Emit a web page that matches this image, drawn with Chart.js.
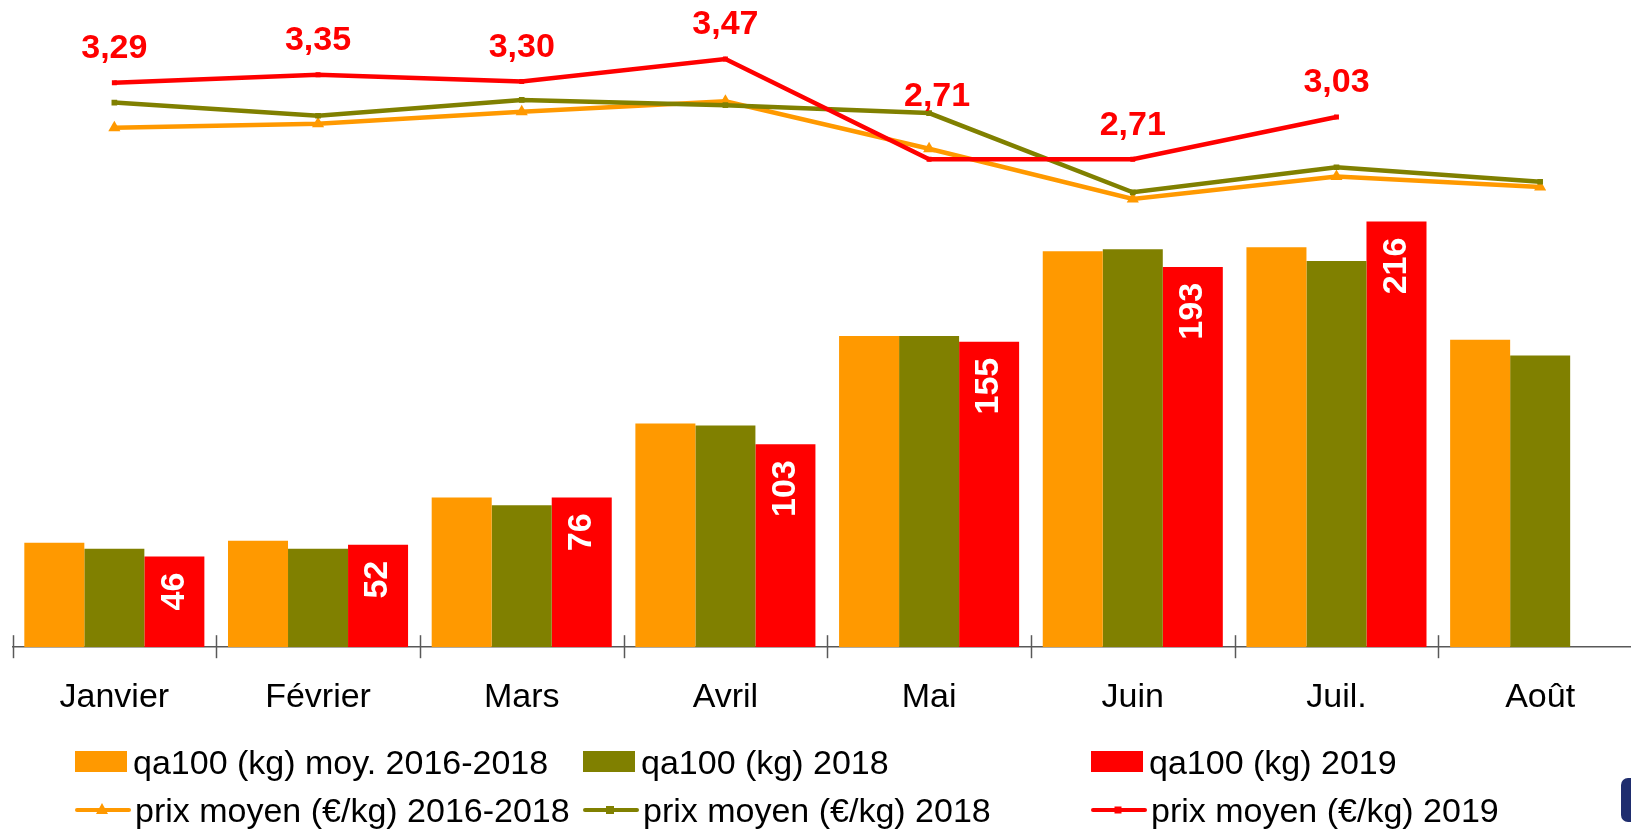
<!DOCTYPE html>
<html>
<head>
<meta charset="utf-8">
<script src="https://cdn.jsdelivr.net/npm/chart.js@4/dist/chart.umd.min.js"></script>
<style>
  html, body { margin: 0; padding: 0; background: #fff; overflow: hidden; }
  body { width: 1631px; height: 831px; position: relative; font-family: "Liberation Sans", Arial, sans-serif; }
  #wrap { position: absolute; left: 0; top: 0; width: 1642px; height: 748px; }
  #legend { position: absolute; left: 75px; top: 738px; display: grid; grid-template-columns: repeat(3, 508px); grid-auto-rows: 48px; }
  .item { display: flex; align-items: center; font-size: 34px; color: #000; white-space: nowrap; }
  .item svg { margin-right: 4px; flex: none; }
  .navy { position: absolute; left: 1621px; top: 778px; width: 24px; height: 44px; background: #1f2d6e; border-radius: 7px; }
</style>
</head>
<body>
<div id="wrap"><canvas id="chart" width="1642" height="748"></canvas></div>
<div id="legend"></div>
<div class="navy"></div>
<script>
// categories
const months = ['Janvier', 'Février', 'Mars', 'Avril', 'Mai', 'Juin', 'Juil.', 'Août'];

// quantities (kg) - bars
const qaMoy = [53, 54, 76, 113.5, 158, 201, 203, 156];
const qa2018 = [50, 50, 72, 112.5, 158, 202, 196, 148];
const qa2019 = [46, 52, 76, 103, 155, 193, 216, null];

// average price (€/kg) - lines
const prixMoy = [2.95, 2.98, 3.07, 3.15, 2.79, 2.41, 2.58, 2.50];
const prix2018 = [3.14, 3.04, 3.16, 3.12, 3.06, 2.46, 2.65, 2.54];
const prix2019 = [3.29, 3.35, 3.30, 3.47, 2.71, 2.71, 3.03, null];

// label placement above red line points (px)
const labelLift = [34, 34, 34, 34, 63, 34, 34, 34];
const labelShift = [0, 0, 0, 0, 8, 0, 0, 0];

const ORANGE = '#ff9900';
const OLIVE = '#808000';
const RED = '#ff0000';
const FONT = '"Liberation Sans", Arial, sans-serif';

const fmt = v => v.toFixed(2).replace('.', ',');

// draws the category separators, the values on the 2019 bars and above the 2019 line
const labelsPlugin = {
  id: 'labels',
  beforeDatasetsDraw(chart) {
    const ctx = chart.ctx;
    const x = chart.scales.x;
    const yb = chart.chartArea.bottom;
    ctx.save();
    ctx.strokeStyle = '#595959';
    ctx.lineWidth = 1.5;
    for (let i = 0; i <= months.length; i++) {
      const px = Math.round(x.getPixelForValue(i - 0.5)) + 0.5;
      ctx.beginPath();
      ctx.moveTo(px, yb - 12);
      ctx.lineTo(px, yb + 11);
      ctx.stroke();
    }
    ctx.restore();
  },
  afterDatasetsDraw(chart) {
    const ctx = chart.ctx;
    ctx.save();
    ctx.font = 'bold 34px ' + FONT;

    // white rotated values inside the red bars
    ctx.fillStyle = '#fff';
    chart.getDatasetMeta(2).data.forEach((bar, i) => {
      if (qa2019[i] == null) return;
      ctx.save();
      ctx.translate(bar.x, bar.y + 16);
      ctx.rotate(-Math.PI / 2);
      ctx.textAlign = 'right';
      ctx.textBaseline = 'middle';
      ctx.fillText(String(qa2019[i]), 0, 0);
      ctx.restore();
    });

    // red price values
    ctx.fillStyle = RED;
    ctx.textAlign = 'center';
    ctx.textBaseline = 'middle';
    chart.getDatasetMeta(5).data.forEach((pt, i) => {
      if (prix2019[i] == null) return;
      ctx.fillText(fmt(prix2019[i]), pt.x + labelShift[i], pt.y - labelLift[i]);
    });
    ctx.restore();
  }
};

const barSet = (label, data, color) => ({
  type: 'bar', label, data, backgroundColor: color, borderWidth: 0,
  yAxisID: 'y', order: 3, barPercentage: 1, categoryPercentage: 0.884
});
const lineSet = (label, data, color, style, radius, order) => ({
  type: 'line', label, data, borderColor: color, backgroundColor: color,
  borderWidth: 4.5, pointStyle: style, pointRadius: radius, pointBorderWidth: 0,
  tension: 0, yAxisID: 'y2', order, spanGaps: false
});

const datasets = [
  barSet('qa100 (kg) moy. 2016-2018', qaMoy, ORANGE),
  barSet('qa100 (kg) 2018', qa2018, OLIVE),
  barSet('qa100 (kg) 2019', qa2019, RED),
  lineSet('prix moyen (€/kg) 2016-2018', prixMoy, ORANGE, 'triangle', 7, 2),
  lineSet('prix moyen (€/kg) 2018', prix2018, OLIVE, 'rect', 4, 1),
  lineSet('prix moyen (€/kg) 2019', prix2019, RED, 'rect', 3.5, 0)
];

new Chart(document.getElementById('chart'), {
  data: { labels: months, datasets },
  options: {
    responsive: false,
    animation: false,
    layout: { autoPadding: false, padding: { left: 12.5, right: 0, top: 10, bottom: 0 } },
    plugins: { legend: { display: false }, tooltip: { enabled: false } },
    scales: {
      x: {
        offset: true,
        grid: { display: false, drawTicks: false },
        border: { display: true, color: '#595959', width: 1.5 },
        ticks: { color: '#000', font: { family: FONT, size: 34 }, padding: 30, maxRotation: 0 }
      },
      y: { display: false, min: 0, max: 323.4 },
      y2: { display: false, min: -0.9855, max: 3.841 }
    }
  },
  plugins: [labelsPlugin]
});

// legend, built from the datasets
const legend = document.getElementById('legend');
datasets.forEach(ds => {
  const item = document.createElement('div');
  item.className = 'item';
  let svg;
  if (ds.type === 'bar') {
    svg = `<svg width="54" height="22"><rect x="0" y="0" width="52" height="21" fill="${ds.backgroundColor}"/></svg>`;
  } else {
    let marker = '';
    if (ds.pointStyle === 'triangle') {
      marker = `<polygon points="27,4 33,15 21,15" fill="${ds.borderColor}"/>`;
    } else {
      const r = ds.pointRadius;
      marker = `<rect x="${27 - r}" y="${11 - r}" width="${2 * r}" height="${2 * r}" fill="${ds.borderColor}"/>`;
    }
    svg = `<svg width="56" height="22"><line x1="2" y1="11" x2="54" y2="11" stroke="${ds.borderColor}" stroke-width="4" stroke-linecap="round"/>${marker}</svg>`;
  }
  item.innerHTML = svg + '<span>' + ds.label + '</span>';
  legend.appendChild(item);
});
</script>
</body>
</html>
